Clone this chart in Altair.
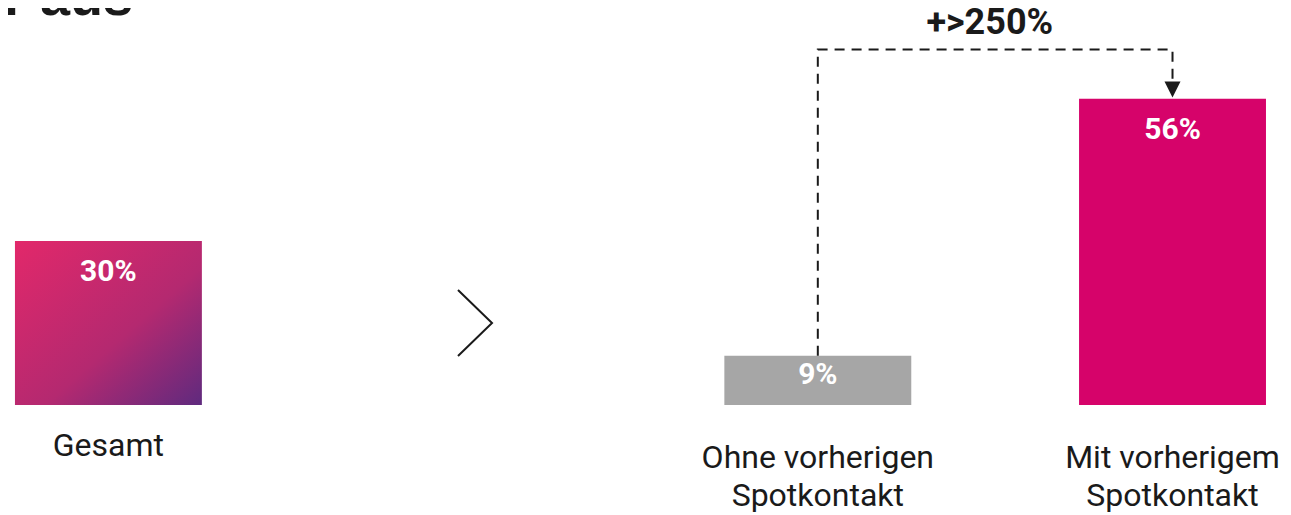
import altair as alt
import pandas as pd

# ---- data -------------------------------------------------------------
categories = ["Gesamt", "Ohne vorherigen Spotkontakt", "Mit vorherigem Spotkontakt"]
values = [30, 9, 56]
value_labels = ["30%", "9%", "56%"]
axis_labels = ["Gesamt", "Ohne vorherigen\nSpotkontakt", "Mit vorherigem\nSpotkontakt"]
gap_slot = "zwischen"
x_domain = [categories[0], gap_slot, categories[1], categories[2]]

bracket_cats = [categories[1], categories[1], categories[2], categories[2]]
bracket_vals = [9, 65, 65, 59]
bracket_steps = [0, 1, 2, 3]
arrow_vals = [57.7]
increase_label = "+>250%"
increase_level = 69.8
title_fragment = "r aus"

# ---- styles -----------------------------------------------------------
DARK = "#1a1a1a"
GRAY = "#a6a6a6"
MAGENTA = "#d6036a"

bars_df = pd.DataFrame({"cat": categories, "value": values,
                        "label": value_labels, "axis": axis_labels})

x_enc = alt.X("cat:N",
              scale=alt.Scale(domain=x_domain, paddingInner=0.473,
                              paddingOuter=0.0338, align=0.29),
              axis=None, sort=x_domain)
y_scale = alt.Scale(domain=[0, 72.6], nice=False, zero=True)

base = alt.Chart(bars_df)

grad = alt.Gradient(
    gradient="linear", x1=0, y1=0, x2=1, y2=1,
    stops=[alt.GradientStop(color="#e2286a", offset=0),
           alt.GradientStop(color="#b42970", offset=0.58),
           alt.GradientStop(color="#5f2a7e", offset=1)])

bar_gesamt = base.transform_filter(alt.datum.cat == categories[0]).mark_bar(
    fill=grad).encode(
    x=x_enc, y=alt.Y("value:Q", scale=y_scale, axis=None))

bar_other = base.transform_filter(alt.datum.cat != categories[0]).mark_bar().encode(
    x=x_enc, y=alt.Y("value:Q", scale=y_scale, axis=None),
    color=alt.Color("cat:N", scale=alt.Scale(domain=categories[1:],
                                             range=[GRAY, MAGENTA]),
                    legend=None))

value_text = base.transform_calculate(
    pos="datum.value - min(5.67, datum.value * 0.39)").mark_text(
    font="Roboto", fontWeight="bold", fontSize=30, color="white",
    align="center", baseline="middle").encode(
    x=x_enc, y=alt.Y("pos:Q", scale=y_scale, axis=None), text="label:N")

label_g = base.transform_filter(alt.datum.cat == categories[0]).mark_text(
    font="Roboto", fontSize=32, color=DARK, align="center",
    baseline="alphabetic", lineBreak="\n", lineHeight=38.5).encode(
    x=x_enc, y=alt.value(448), text="axis:N")

label_o = base.transform_filter(alt.datum.cat != categories[0]).mark_text(
    font="Roboto", fontSize=32, color=DARK, align="center",
    baseline="alphabetic", lineBreak="\n", lineHeight=38.5).encode(
    x=x_enc, y=alt.value(459.5), text="axis:N")

chev_df = pd.DataFrame({"cat": [gap_slot]})
chevron = alt.Chart(chev_df).mark_point(
    shape="M-0.155,-1L0.876,0L-0.155,1", size=4356, filled=False,
    stroke=DARK, strokeWidth=2, opacity=1).encode(
    x=x_enc, y=alt.value(315))

br_df = pd.DataFrame({"cat": bracket_cats, "val": bracket_vals,
                      "step": bracket_steps})
bracket = alt.Chart(br_df).mark_line(
    strokeDash=[10, 7], strokeWidth=2, color=DARK).encode(
    x=x_enc, y=alt.Y("val:Q", scale=y_scale, axis=None), order="step:Q")

arrow_df = pd.DataFrame({"cat": [categories[2]], "val": arrow_vals})
arrow = alt.Chart(arrow_df).mark_point(
    shape="M-1,-1L1,-1L0,1Z", size=256, filled=True, color=DARK,
    opacity=1).encode(
    x=x_enc, y=alt.Y("val:Q", scale=y_scale, axis=None))

inc_df = pd.DataFrame({"cat": [categories[1]], "val": [increase_level],
                       "label": [increase_label]})
increase = alt.Chart(inc_df).mark_text(
    font="Roboto", fontWeight="bold", fontSize=36, color=DARK,
    align="center", baseline="middle", dx=172).encode(
    x=x_enc, y=alt.Y("val:Q", scale=y_scale, axis=None), text="label:N")

title_df = pd.DataFrame({"t": [title_fragment]})
title = alt.Chart(title_df).mark_text(
    font="Liberation Sans", fontWeight="bold", fontSize=54, color=DARK,
    align="right", baseline="alphabetic").encode(
    x=alt.value(125), y=alt.value(7), text="t:N")

chart = alt.layer(
    bar_gesamt, bar_other, bracket, arrow, value_text, label_g, label_o,
    chevron, increase, title
).properties(
    width=1275, height=397,
    autosize=alt.AutoSizeParams(type="none"),
    padding={"left": 0, "top": 0, "right": 0, "bottom": 110},
).configure_view(strokeWidth=0)

chart.save("out.html", embed_options={"renderer": "svg", "actions": False})
